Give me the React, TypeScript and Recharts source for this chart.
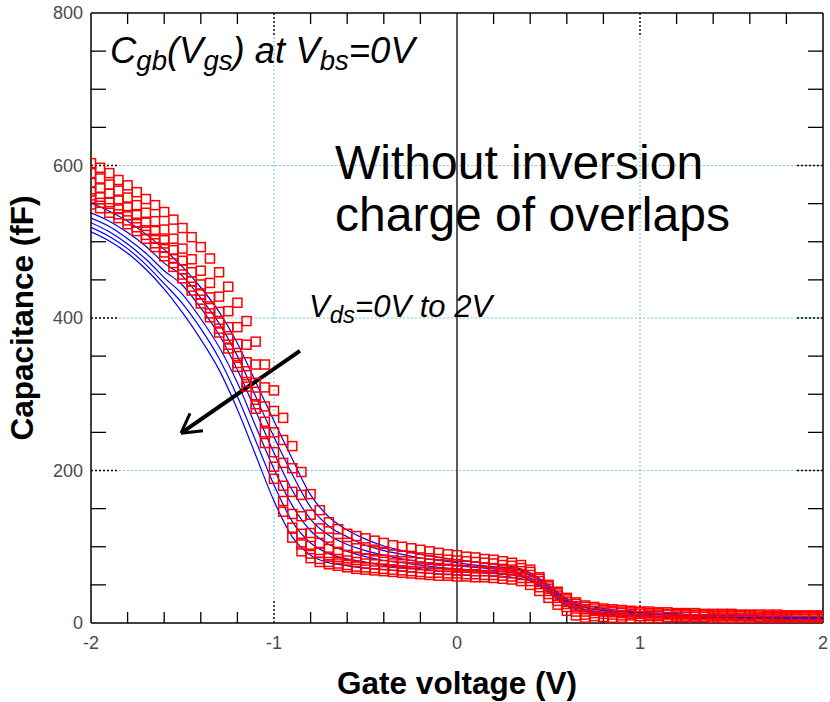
import React from 'react';
import { ComposedChart, Line, Scatter, XAxis, YAxis, ReferenceLine } from 'recharts';

// Gate voltage grids (V): measurement sweep and model evaluation points
const vgsMeasured = [
  -2, -1.95, -1.9, -1.85, -1.8, -1.75, -1.7, -1.65, -1.6, -1.55, -1.5, -1.45, -1.4, -1.35, -1.3, -1.25, -1.2, -1.15, -1.1, -1.05, -1,
  -0.95, -0.9, -0.85, -0.8, -0.75, -0.7, -0.65, -0.6, -0.55, -0.5, -0.45, -0.4, -0.35, -0.3, -0.25, -0.2, -0.15, -0.1, -0.05, 0,
  0.05, 0.1, 0.15, 0.2, 0.25, 0.3, 0.35, 0.4, 0.45, 0.5, 0.55, 0.6, 0.65, 0.7, 0.75, 0.8, 0.85, 0.9, 0.95, 1,
  1.05, 1.1, 1.15, 1.2, 1.25, 1.3, 1.35, 1.4, 1.45, 1.5, 1.55, 1.6, 1.65, 1.7, 1.75, 1.8, 1.85, 1.9, 1.95, 2,
];
const vgsModel = [
  -2, -1.9, -1.8, -1.7, -1.6, -1.5, -1.4, -1.3, -1.2, -1.1, -1,
  -0.9, -0.8, -0.7, -0.6, -0.5, -0.4, -0.3, -0.2, -0.1, 0,
  0.1, 0.2, 0.3, 0.4, 0.5, 0.6, 0.7, 0.8, 0.9, 1,
  1.1, 1.2, 1.3, 1.4, 1.5, 1.6, 1.7, 1.8, 1.9, 2,
];

// Measured Cgb (fF), one array per drain bias step (Vds = 0V ... 2V)
const measuredVds0 = [
  603, 597, 590, 581, 574, 565, 556, 548, 539, 529, 518, 506, 493, 478, 460, 441, 420, 396, 369, 339, 305,
  269, 232, 198, 169, 148, 132, 123, 117, 114, 111, 108, 105, 102, 100, 98, 96, 94, 92, 90, 89,
  87, 86, 84, 83, 81, 79, 76, 70, 60, 50, 41, 33, 27, 23, 21, 19, 18, 17, 16, 15,
  15, 14, 14, 13, 13, 13, 12, 12, 12, 12, 11, 11, 11, 11, 11, 10, 10, 10, 10, 10,
];
const measuredVds1 = [
  590, 583, 575, 567, 558, 548, 538, 527, 516, 504, 491, 477, 462, 446, 428, 409, 388, 365, 339, 309, 278,
  240, 203, 168, 142, 124, 112, 105, 101, 98, 96, 94, 92, 90, 89, 88, 86, 85, 84, 83, 82,
  81, 80, 79, 78, 76, 75, 72, 67, 58, 48, 39, 31, 25, 21, 19, 17, 16, 15, 14, 14,
  13, 13, 12, 12, 12, 11, 11, 11, 11, 10, 10, 10, 10, 9, 9, 9, 9, 9, 9, 9,
];
const measuredVds2 = [
  577, 570, 563, 554, 545, 535, 525, 514, 502, 489, 475, 460, 444, 427, 408, 388, 366, 342, 315, 284, 250,
  210, 172, 140, 118, 105, 97, 92, 89, 87, 85, 84, 83, 82, 81, 80, 79, 78, 77, 76, 75,
  75, 74, 73, 72, 71, 70, 68, 63, 55, 45, 36, 28, 22, 18, 16, 15, 14, 13, 12, 12,
  11, 11, 11, 10, 10, 10, 10, 9, 9, 9, 9, 9, 8, 8, 8, 8, 8, 8, 8, 8,
];
const measuredVds3 = [
  566, 559, 552, 544, 535, 525, 515, 504, 492, 478, 464, 448, 431, 413, 394, 373, 350, 325, 297, 264, 224,
  180, 143, 117, 101, 92, 87, 84, 82, 80, 78, 77, 76, 75, 74, 73, 72, 71, 70, 70, 69,
  69, 68, 68, 67, 66, 65, 63, 59, 51, 42, 33, 25, 19, 15, 13, 12, 11, 10, 10, 9,
  9, 9, 8, 8, 8, 8, 8, 7, 7, 7, 7, 7, 7, 7, 7, 7, 7, 6, 6, 6,
];
const measuredVds4 = [
  557, 551, 544, 536, 528, 519, 509, 498, 486, 472, 457, 441, 424, 406, 386, 365, 341, 316, 287, 250, 205,
  160, 125, 103, 91, 84, 80, 78, 76, 74, 73, 72, 71, 70, 69, 68, 67, 66, 66, 65, 65,
  64, 64, 63, 63, 62, 61, 59, 55, 47, 38, 29, 21, 15, 11, 9, 8, 7, 7, 6, 6,
  6, 6, 5, 5, 5, 5, 5, 5, 5, 5, 5, 5, 5, 5, 5, 5, 5, 5, 5, 5,
];
const measuredVds5 = [
  549, 544, 538, 531, 523, 514, 504, 493, 481, 467, 452, 436, 419, 401, 381, 360, 336, 310, 281, 236, 189,
  146, 112, 94, 85, 80, 77, 75, 73, 71, 70, 69, 68, 67, 66, 65, 64, 63, 62, 62, 61,
  61, 60, 60, 59, 58, 57, 55, 50, 42, 33, 24, 16, 10, 7, 5, 4, 4, 4, 3, 3,
  3, 3, 3, 3, 3, 3, 3, 3, 3, 3, 3, 3, 3, 3, 3, 3, 3, 3, 3, 3,
];

// Model Cgb (fF) without inversion charge of the overlaps
const modelVds0 = [
  551, 540, 527, 510, 490, 467, 440, 408, 367, 316, 265,
  215, 168, 139, 122, 110, 101, 95, 90, 86, 83,
  80, 77, 74, 66, 50, 32, 23, 19, 16, 14,
  13, 12, 11, 11, 10, 10, 9, 9, 8, 8,
];
const modelVds1 = [
  538, 527, 512, 494, 472, 455, 426, 393, 350, 297, 244,
  195, 152, 127, 113, 102, 95, 90, 85, 82, 79,
  76, 74, 71, 64, 48, 30, 21, 17, 15, 13,
  12, 11, 10, 10, 9, 9, 8, 8, 7, 7,
];
const modelVds2 = [
  531, 520, 504, 485, 462, 443, 413, 378, 332, 278, 223,
  174, 136, 115, 103, 95, 89, 84, 80, 77, 75,
  73, 71, 68, 62, 46, 28, 20, 16, 13, 12,
  11, 10, 9, 9, 8, 8, 7, 7, 6, 6,
];
const modelVds3 = [
  525, 513, 497, 477, 453, 431, 399, 362, 315, 258, 202,
  154, 121, 103, 94, 87, 82, 79, 76, 73, 71,
  69, 68, 66, 59, 44, 26, 18, 14, 12, 10,
  9, 9, 8, 8, 7, 7, 7, 6, 6, 6,
];
const modelVds4 = [
  519, 507, 491, 470, 445, 419, 386, 347, 297, 239, 181,
  133, 105, 91, 84, 80, 76, 73, 71, 68, 67,
  66, 65, 63, 57, 42, 24, 17, 13, 10, 9,
  8, 8, 7, 7, 6, 6, 6, 5, 5, 5,
];
const modelVds5 = [
  513, 501, 485, 464, 438, 407, 372, 332, 280, 220, 160,
  113, 89, 79, 75, 72, 70, 68, 66, 64, 63,
  62, 62, 60, 55, 40, 22, 15, 11, 9, 8,
  7, 7, 6, 6, 5, 5, 5, 4, 4, 4,
];

// Axis ticks
const xLabelTicks = [-2, -1, 0, 1, 2];
const yLabelTicks = [0, 200, 400, 600, 800];
const xMinorTicks = [-1.8, -1.6, -1.4, -1.2, -0.8, -0.6, -0.4, -0.2, 0.2, 0.4, 0.6, 0.8, 1.2, 1.4, 1.6, 1.8];
const yMinorTicks = [50, 100, 150, 250, 300, 350, 450, 500, 550, 650, 700, 750];
const xGrid = [-1, 1];
const yGrid = [200, 400, 600];

const X_MIN = -2;
const X_MAX = 2;
const Y_MIN = 0;
const Y_MAX = 800;
// inward tick lengths in axis units
const X_TICK_LEN = 14.5; // fF, on bottom/top edges
const X_MAJOR_LEN = 30;
const Y_TICK_LEN = 0.082; // V, on left/right edges
const Y_MAJOR_LEN = 0.148;

const toPoints = (xs: number[], ys: number[]) => xs.map((x, i) => ({ x, y: ys[i] }));

const measured = [measuredVds0, measuredVds1, measuredVds2, measuredVds3, measuredVds4, measuredVds5].map((ys) =>
  toPoints(vgsMeasured, ys)
);
const model = [modelVds0, modelVds1, modelVds2, modelVds3, modelVds4, modelVds5].map((ys) => toPoints(vgsModel, ys));

const FONT = '"Liberation Sans", Arial, Helvetica, sans-serif';

const Square = (props: any) => {
  const { cx, cy } = props;
  if (cx == null || cy == null) return null;
  return <rect x={cx - 4.5} y={cy - 4.5} width={9} height={9} fill="none" stroke="#ff0000" strokeWidth={1.5} />;
};

const seg = (key: string, x1: number, y1: number, x2: number, y2: number, dashed = false) => (
  <ReferenceLine
    key={key}
    xAxisId="bottom"
    yAxisId="left"
    segment={[{ x: x1, y: y1 }, { x: x2, y: y2 }]}
    stroke="#000"
    strokeWidth={1.3}
    strokeDasharray={dashed ? '2 2' : undefined}
  />
);

export default function App() {
  return (
    <div style={{ position: 'absolute', left: 0, top: 0, width: 830, height: 702, background: '#fff' }}>
      <ComposedChart width={830} height={702} margin={{ top: 3, right: 2, bottom: 49, left: 51 }}>
        <XAxis
          xAxisId="bottom"
          dataKey="x"
          type="number"
          domain={[X_MIN, X_MAX]}
          allowDataOverflow
          ticks={xLabelTicks}
          interval={0}
          tickSize={0}
          tickMargin={13}
          tickLine={false}
          height={30}
          axisLine={{ stroke: '#000', strokeWidth: 1.5 }}
          tick={{ fill: '#4a4a4a', fontSize: 18, fontFamily: FONT }}
        />
        <XAxis
          xAxisId="top"
          orientation="top"
          dataKey="x"
          type="number"
          domain={[X_MIN, X_MAX]}
          allowDataOverflow
          ticks={xLabelTicks}
          tick={false}
          tickLine={false}
          height={10}
          axisLine={{ stroke: '#000', strokeWidth: 1.5 }}
        />
        <YAxis
          yAxisId="left"
          dataKey="y"
          type="number"
          domain={[Y_MIN, Y_MAX]}
          allowDataOverflow
          ticks={yLabelTicks}
          interval={0}
          tickSize={0}
          tickMargin={8}
          tickLine={false}
          width={40}
          axisLine={{ stroke: '#000', strokeWidth: 1.5 }}
          tick={{ fill: '#4a4a4a', fontSize: 18, fontFamily: FONT }}
        />
        <YAxis
          yAxisId="right"
          orientation="right"
          type="number"
          domain={[Y_MIN, Y_MAX]}
          allowDataOverflow
          ticks={yLabelTicks}
          tick={false}
          tickLine={false}
          width={5}
          axisLine={{ stroke: '#000', strokeWidth: 1.5 }}
        />

        {xGrid.map((v) => (
          <ReferenceLine key={`gx${v}`} xAxisId="bottom" yAxisId="left" x={v} stroke="#7ccaf4" strokeWidth={1.2} strokeDasharray="2 2" />
        ))}
        {yGrid.map((v) => (
          <ReferenceLine key={`gy${v}`} xAxisId="bottom" yAxisId="left" y={v} stroke="#7ccaf4" strokeWidth={1.2} strokeDasharray="2 2" />
        ))}
        <ReferenceLine xAxisId="bottom" yAxisId="left" x={0} stroke="#333" strokeWidth={1.6} />

        {/* inward tick marks on all four edges */}
        {xMinorTicks.map((v) => seg(`tb${v}`, v, Y_MIN, v, Y_MIN + X_TICK_LEN))}
        {xMinorTicks.map((v) => seg(`tt${v}`, v, Y_MAX, v, Y_MAX - X_TICK_LEN))}
        {yMinorTicks.map((v) => seg(`tl${v}`, X_MIN, v, X_MIN + Y_TICK_LEN, v))}
        {yMinorTicks.map((v) => seg(`tr${v}`, X_MAX, v, X_MAX - Y_TICK_LEN, v))}
        {xGrid.map((v) => seg(`Tb${v}`, v, Y_MIN, v, Y_MIN + X_MAJOR_LEN, true))}
        {xGrid.map((v) => seg(`Tt${v}`, v, Y_MAX, v, Y_MAX - X_MAJOR_LEN, true))}
        {yGrid.map((v) => seg(`Tl${v}`, X_MIN, v, X_MIN + Y_MAJOR_LEN, v, true))}
        {yGrid.map((v) => seg(`Tr${v}`, X_MAX, v, X_MAX - Y_MAJOR_LEN, v, true))}

        {measured.map((pts, i) => (
          <Scatter
            key={`m${i}`}
            xAxisId="bottom"
            yAxisId="left"
            data={pts}
            dataKey="y"
            shape={Square}
            isAnimationActive={false}
          />
        ))}
        {model.map((pts, i) => (
          <Line
            key={`s${i}`}
            xAxisId="bottom"
            yAxisId="left"
            data={pts}
            dataKey="y"
            type="monotone"
            stroke="#0000ff"
            strokeWidth={1.2}
            dot={false}
            isAnimationActive={false}
          />
        ))}

        {/* arrow: Vds increasing */}
        <ReferenceLine xAxisId="bottom" yAxisId="left" segment={[{ x: -0.858, y: 357 }, { x: -1.508, y: 249 }]} stroke="#000" strokeWidth={4} />
        <ReferenceLine xAxisId="bottom" yAxisId="left" segment={[{ x: -1.508, y: 249 }, { x: -1.388, y: 252 }]} stroke="#000" strokeWidth={3} />
        <ReferenceLine xAxisId="bottom" yAxisId="left" segment={[{ x: -1.508, y: 249 }, { x: -1.459, y: 275 }]} stroke="#000" strokeWidth={3} />
      </ComposedChart>

      <svg width={830} height={702} style={{ position: 'absolute', left: 0, top: 0, pointerEvents: 'none' }}>
        <g fontFamily={FONT} fill="#000">
          <text x={110} y={63} fontSize={36.5} fontStyle="italic">
            C<tspan fontSize={27.5} dy={7}>gb</tspan>
            <tspan dy={-7}>(V</tspan>
            <tspan fontSize={27.5} dy={7}>gs</tspan>
            <tspan dy={-7}>) at V</tspan>
            <tspan fontSize={27.5} dy={7}>bs</tspan>
            <tspan dy={-7}>=0V</tspan>
          </text>
          <text x={335} y={179} fontSize={48}>Without inversion</text>
          <text x={335} y={231} fontSize={48}>charge of overlaps</text>
          <text x={309} y={317} fontSize={31} fontStyle="italic">
            V<tspan fontSize={24} dy={6}>ds</tspan>
            <tspan dy={-6}>=0V to 2V</tspan>
          </text>
          <text x={457} y={694} fontSize={31.5} fontWeight="bold" textAnchor="middle">Gate voltage (V)</text>
          <text x={0} y={0} fontSize={31.5} fontWeight="bold" textAnchor="middle" transform="translate(33 318) rotate(-90)">
            Capacitance (fF)
          </text>
        </g>
      </svg>
    </div>
  );
}
